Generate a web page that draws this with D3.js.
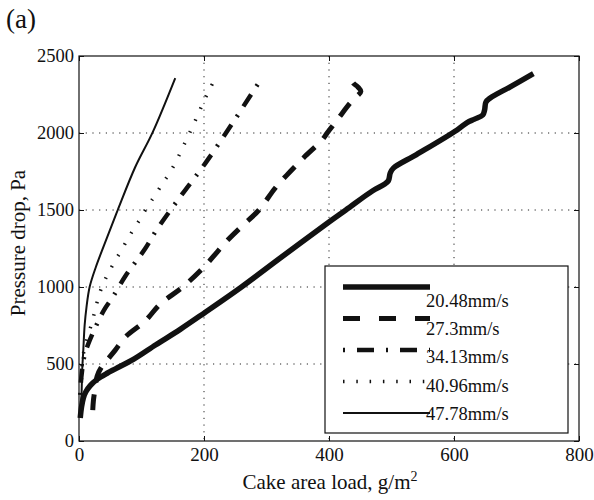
<!DOCTYPE html>
<html>
<head>
<meta charset="utf-8">
<script src="https://cdn.jsdelivr.net/npm/d3@7"></script>
<style>
    body { margin: 0; background: #fff; }
    svg text { font-family: "Liberation Serif", "DejaVu Serif", "Times New Roman", serif; fill: #111; }
</style>
</head>
<body>
<script>
"use strict";

// Legend labels (filtration velocity)
const seriesNames = ["20.48mm/s", "27.3mm/s", "34.13mm/s", "40.96mm/s", "47.78mm/s"];

// Curves: [cake area load g/m2, pressure drop Pa]
const load2048 = [[2,150],[4,220],[7,280],[11,320],[18,360],[29,400],[45,440],[59,470],[87,530],[123,625],
    [162,725],[200,830],[260,1000],[322,1188],[400,1422],[427,1500],[470,1625],[488,1665],[495,1690],
    [498,1740],[503,1772],[540,1860],[605,2020],[621,2068],[633,2090],[646,2117],[649,2150],[651,2200],
    [658,2227],[690,2300],[727,2385]];
const load2730 = [[22,200],[23,260],[25,320],[29,420],[36,480],[46,530],[58,590],[74,675],[106,780],
    [130,890],[166,1000],[200,1130],[221,1227],[238,1305],[262,1400],[288,1500],[314,1643],[338,1750],
    [362,1850],[389,1955],[397,2000],[413,2084],[434,2195],[445,2240],[451,2270],[446,2300],[438,2330],
    [443,2362]];
const load3413 = [[2,300],[3,380],[5,460],[8,540],[13,610],[22,700],[30,770],[40,850],[54,935],[74,1070],
    [90,1160],[106,1250],[124,1370],[162,1586],[202,1803],[245,2060],[287,2322],[294,2360]];
const load4096 = [[4,400],[6,540],[12,650],[21,773],[27,870],[33,960],[42,1050],[55,1150],[68,1240],
    [82,1340],[96,1430],[109,1519],[122,1597],[134,1675],[146,1747],[158,1838],[167,1915],[177,2000],
    [190,2117],[202,2227],[210,2292],[221,2377]];
const load4778 = [[2,180],[4,300],[5,450],[7,600],[9,750],[12,870],[17,1000],[27,1130],[40,1270],
    [62,1500],[90,1779],[118,2006],[154,2357]];

// Tick values
const xTicks = [0, 200, 400, 600, 800];
const yTicks = [0, 500, 1000, 1500, 2000, 2500];

(function(){
    const width = 594, height = 500;
    const plot = { left: 79, right: 579, top: 56, bottom: 441 };
    const fontFamily = '"Liberation Serif", "DejaVu Serif", "Times New Roman", serif';

    // Line looks for each series (thick solid, dashed, dash-dot, dotted, thin solid)
    const looks = [
        { w: 5.5, dash: null,          legendDash: null },
        { w: 5,   dash: "16,12",       legendDash: "17,19" },
        { w: 4.5, dash: "2,10,14,10",  legendDash: "2,12,17,12" },
        { w: 3.5, dash: "1.5,11.5",    legendDash: "1.5,11.8" },
        { w: 2,   dash: null,          legendDash: null }
    ];
    const allSeries = [load2048, load2730, load3413, load4096, load4778];

    const svg = d3.select("body").append("svg")
        .attr("width", width)
        .attr("height", height)
        .attr("font-family", fontFamily);

    const x = d3.scaleLinear().domain([0, 800]).range([plot.left, plot.right]);
    const y = d3.scaleLinear().domain([0, 2500]).range([plot.bottom, plot.top]);

    // Dotted grid
    const grid = svg.append("g")
        .attr("stroke", "#222")
        .attr("stroke-width", 1)
        .attr("stroke-dasharray", "1.2,5.5");
    grid.selectAll(".gx").data(xTicks.slice(1, -1)).enter().append("line")
        .attr("x1", d => x(d)).attr("x2", d => x(d))
        .attr("y1", plot.top).attr("y2", plot.bottom);
    grid.selectAll(".gy").data(yTicks.slice(1, -1)).enter().append("line")
        .attr("x1", plot.left).attr("x2", plot.right)
        .attr("y1", d => y(d)).attr("y2", d => y(d));

    // Curves
    const line = d3.line()
        .x(d => x(d[0]))
        .y(d => y(d[1]))
        .curve(d3.curveCatmullRom.alpha(0.5));

    allSeries.forEach(function(s, i) {
        svg.append("path")
            .datum(s)
            .attr("d", line)
            .attr("fill", "none")
            .attr("stroke", "#111")
            .attr("stroke-width", looks[i].w)
            .attr("stroke-linejoin", "round")
            .attr("stroke-dasharray", looks[i].dash);
    });

    // Axes with inward ticks on all four sides
    const fmt = d3.format("d");
    const bottomAxis = svg.append("g")
        .attr("transform", "translate(0," + plot.bottom + ")")
        .call(d3.axisBottom(x).tickValues(xTicks).tickFormat(fmt).tickSize(-5).tickSizeOuter(0).tickPadding(7));
    const leftAxis = svg.append("g")
        .attr("transform", "translate(" + plot.left + ",0)")
        .call(d3.axisLeft(y).tickValues(yTicks).tickFormat(fmt).tickSize(-5).tickSizeOuter(0).tickPadding(5));
    svg.append("g")
        .attr("transform", "translate(0," + plot.top + ")")
        .call(d3.axisTop(x).tickValues(xTicks).tickSize(-5).tickSizeOuter(0).tickFormat(""));
    svg.append("g")
        .attr("transform", "translate(" + plot.right + ",0)")
        .call(d3.axisRight(y).tickValues(yTicks).tickSize(-5).tickSizeOuter(0).tickFormat(""));

    svg.selectAll(".domain").remove();
    svg.selectAll(".tick line").attr("stroke", "#111");
    svg.selectAll("g").attr("font-family", fontFamily);
    bottomAxis.selectAll("text").attr("font-size", 19).attr("fill", "#111");
    leftAxis.selectAll("text").attr("font-size", 18.5).attr("fill", "#111");

    // Axes box
    svg.append("rect")
        .attr("x", plot.left).attr("y", plot.top)
        .attr("width", plot.right - plot.left)
        .attr("height", plot.bottom - plot.top)
        .attr("fill", "none")
        .attr("stroke", "#111")
        .attr("stroke-width", 1.2);

    // Legend
    const legend = svg.append("g");
    legend.append("rect")
        .attr("x", 325).attr("y", 266)
        .attr("width", 243).attr("height", 167)
        .attr("fill", "#fff")
        .attr("stroke", "#111")
        .attr("stroke-width", 1.2);
    seriesNames.forEach(function(name, i) {
        const ly = 287 + i * 31.5;
        legend.append("line")
            .attr("x1", 343).attr("x2", 430)
            .attr("y1", ly).attr("y2", ly)
            .attr("stroke", "#111")
            .attr("stroke-width", looks[i].w)
            .attr("stroke-dasharray", looks[i].legendDash);
        legend.append("text")
            .attr("x", 426)
            .attr("y", 306.7 + i * 28.3)
            .attr("font-size", 18.5)
            .text(name);
    });

    // Axis labels
    const xLabel = svg.append("text")
        .attr("x", 330)
        .attr("y", 489)
        .attr("text-anchor", "middle")
        .attr("font-size", 21)
        .text("Cake area load, g/m");
    xLabel.append("tspan")
        .attr("dy", -8)
        .attr("font-size", 14)
        .text("2");

    svg.append("text")
        .attr("transform", "translate(25,243) rotate(-90)")
        .attr("text-anchor", "middle")
        .attr("font-size", 21)
        .text("Pressure drop, Pa");

    // Panel tag
    svg.append("text")
        .attr("x", 6)
        .attr("y", 28)
        .attr("font-size", 27)
        .text("(a)");
})();
</script>
</body>
</html>
